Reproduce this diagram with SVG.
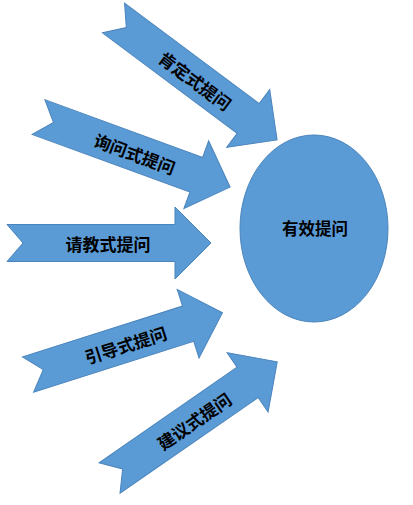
<svg xmlns="http://www.w3.org/2000/svg" xmlns:xlink="http://www.w3.org/1999/xlink" width="413" height="505" viewBox="0 0 413 505">
<style>
.shape{fill:#5B9BD5;stroke:#4A84BC;stroke-width:1;}
.lbl{font-family:"Noto Sans CJK SC","Liberation Sans",sans-serif;font-size:17px;font-weight:700;fill:#000;text-anchor:middle;dominant-baseline:central;}
</style>
<defs>
<path id="arrow" d="M0,-18.5 L168,-18.5 L168,-36 L204,0 L168,36 L168,18.5 L0,18.5 L16,0 Z"/>
</defs>
<rect width="413" height="505" fill="#fff"/>
<g id="nodes">
<g id="n-center">
<ellipse class="shape" cx="314" cy="228.5" rx="74" ry="93.5"/>
<text class="lbl" x="315" y="228" style="font-size:16.5px">有效提问</text>
</g>
<g id="n-kending" transform="translate(113.5,18) rotate(36.7)">
<use xlink:href="#arrow" class="shape"/>
<text class="lbl" x="103" y="1">肯定式提问</text>
</g>
<g id="n-xunwen" transform="translate(38.5,117) rotate(20.1)">
<use xlink:href="#arrow" class="shape"/>
<text class="lbl" x="103" y="1">询问式提问</text>
</g>
<g id="n-qingjiao" transform="translate(7,243) rotate(0)">
<use xlink:href="#arrow" class="shape"/>
<text class="lbl" x="101" y="0">请教式提问</text>
</g>
<g id="n-yindao" transform="translate(28,374.5) rotate(-17.6)">
<use xlink:href="#arrow" class="shape"/>
<text class="lbl" x="102" y="1">引导式提问</text>
</g>
<g id="n-jianyi" transform="translate(109.5,478) rotate(-34.7)">
<use xlink:href="#arrow" class="shape"/>
<text class="lbl" x="102" y="1">建议式提问</text>
</g>
</g>
<g id="connectors"></g>
</svg>
